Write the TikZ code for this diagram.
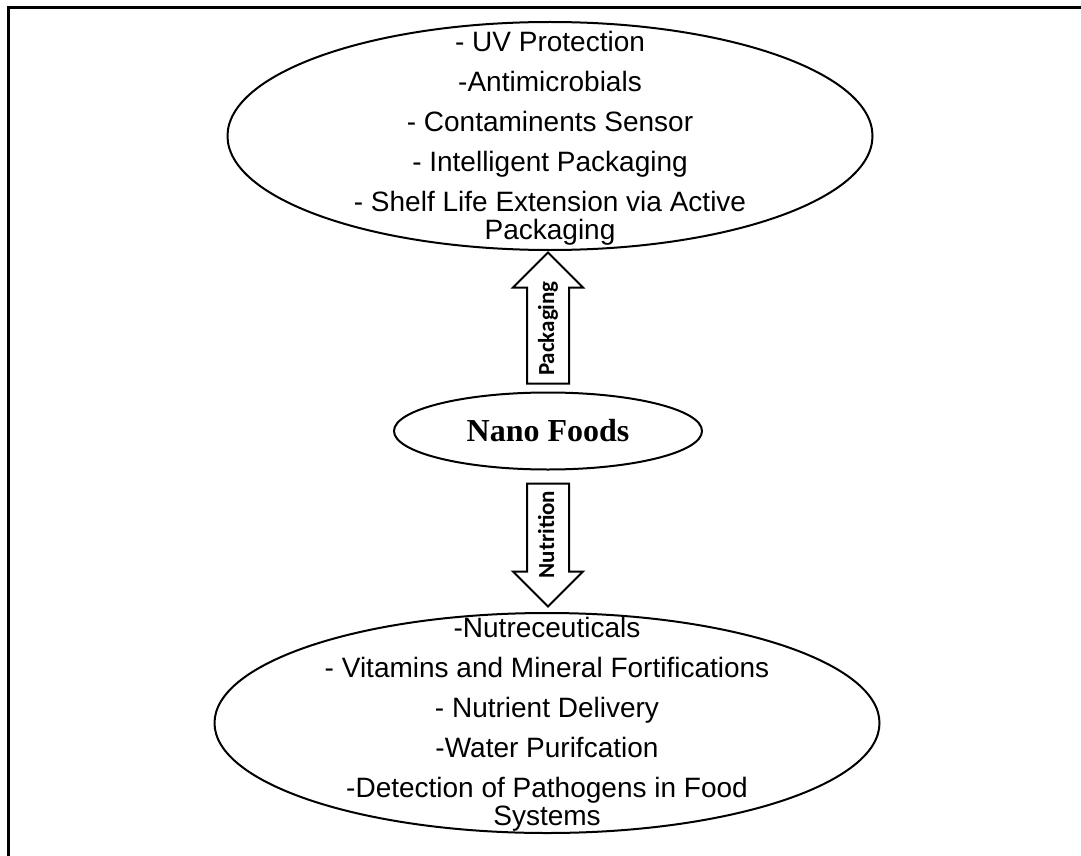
\documentclass[tikz,border=0pt]{standalone}
\usepackage{fontspec}
\setmainfont{Liberation Sans}
\newfontfamily\hubfont{Liberation Serif}
\newfontfamily\tagfont{Carlito}
\usetikzlibrary{positioning,calc,shapes.geometric,shapes.arrows}
\tikzset{bubble/.style={draw,ellipse,line width=1pt,inner sep=0pt},
         listtext/.style={align=center,inner sep=0pt,font=\fontsize{14}{14}\selectfont},
         hub/.style={draw,ellipse,line width=1pt,inner sep=0pt,font=\hubfont\bfseries\fontsize{16}{18}\selectfont},
         fatarrow/.style={draw,single arrow,line width=1pt,rotate=90,anchor=tail,single arrow head extend=7pt,
                          inner xsep=2pt,inner ysep=5pt,text height=8pt,text depth=2pt,font=\tagfont\bfseries\fontsize{11.5}{12}\selectfont}
}

\begin{document}
\begin{tikzpicture}[x=0.5pt,y=-0.5pt]
  \useasboundingbox (0,0) rectangle (1081,856);
  \node[hub, minimum width=154pt, minimum height=38.5pt] (nano) at (548,431) {Nano Foods};
  \node[bubble, minimum width=322.5pt, minimum height=114pt] (pack) at (550,136) {};
  \node[bubble, minimum width=332.5pt, minimum height=110pt] (nutri) at (547,723) {};
  \node[listtext] (packtext) at ([yshift=-1pt]pack.center) {- UV Protection\\[6pt]-Antimicrobials\\[6pt]- Contaminents Sensor\\[6pt]- Intelligent Packaging\\[6pt]- Shelf Life Extension via Active\\Packaging};
  \node[listtext] (nutritext) at ([yshift=-0.5pt]nutri.center) {-Nutreceuticals\\[6pt]- Vitamins and Mineral Fortifications\\[6pt]- Nutrient Delivery\\[6pt]-Water Purifcation\\[6pt]-Detection of Pathogens in Food\\Systems};
  % block arrows
  \node[fatarrow, minimum height=65.5pt] (pk) at ([yshift=3.5pt]nano.north) {Packaging};
  \node[fatarrow, shape border rotate=180, minimum height=61.5pt] (nu) at ([yshift=-6pt]nano.south) {Nutrition};
  \draw[line width=1.5pt] (8,856) -- (8,8) -- (1081,8);
\end{tikzpicture}
\end{document}
